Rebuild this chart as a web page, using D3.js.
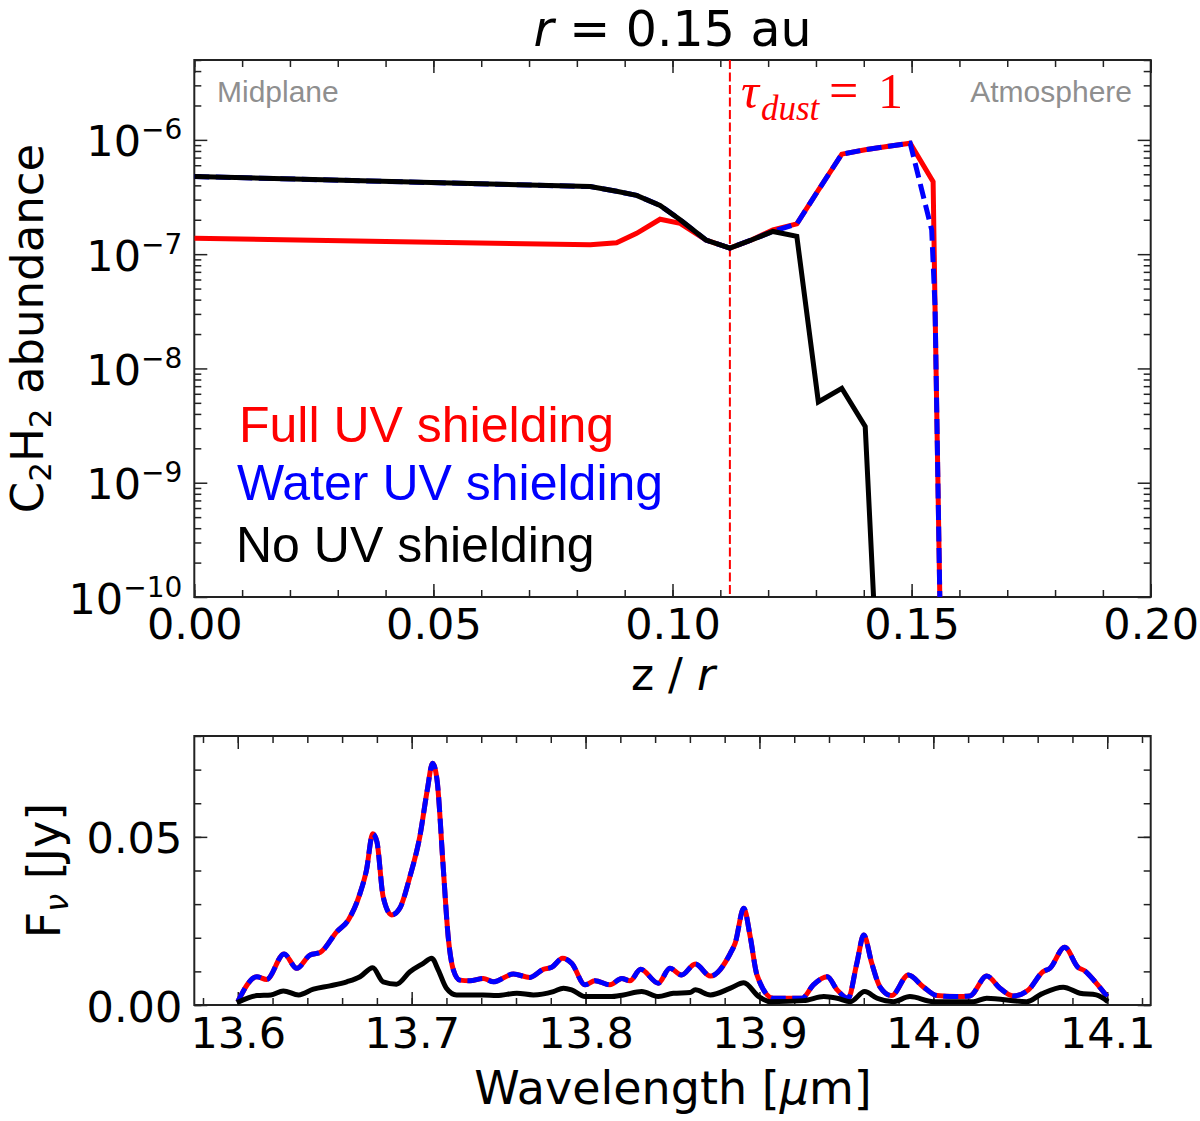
<!DOCTYPE html>
<html lang="en">
<head>
<meta charset="utf-8">
<style>
  body { margin: 0; background: #fff; }
  svg { font-family: "DejaVu Sans", sans-serif; }
  .domain { display: none; }
  .tick line { stroke: #222; stroke-width: 1.5; }
</style>
</head>
<body>
<svg id="chart" width="1200" height="1121"></svg>
<script src="https://cdn.jsdelivr.net/npm/d3@7/dist/d3.min.js"></script>
<script>
// ---- top panel: C2H2 abundance against z/r (r = 0.15 au)
var zNone  = [0, 0.0828, 0.0883, 0.0925, 0.0974, 0.1016, 0.107, 0.112, 0.1165, 0.121, 0.126, 0.1305, 0.1354, 0.1403, 0.1452];
var abNone = [4.78e-7, 3.90e-7, 3.55e-7, 3.27e-7, 2.67e-7, 2.0e-7, 1.33e-7, 1.13e-7, 1.33e-7, 1.58e-7, 1.43e-7, 5.1e-9, 6.7e-9, 3.1e-9, 2e-13];

var zFull  = [0, 0.04, 0.0828, 0.0883, 0.0925, 0.0974, 0.1016, 0.107, 0.112, 0.1165, 0.121, 0.126, 0.1305, 0.1354, 0.1403, 0.1452, 0.1497, 0.1545, 0.1549, 0.1559, 0.1565];
var abFull = [1.38e-7, 1.29e-7, 1.21e-7, 1.26e-7, 1.52e-7, 2.02e-7, 1.86e-7, 1.33e-7, 1.13e-7, 1.33e-7, 1.63e-7, 1.84e-7, 3.63e-7, 7.5e-7, 8.2e-7, 8.8e-7, 9.35e-7, 4.3e-7, 3.5e-8, 1e-10, 3.2e-12];

// water shielding follows the no-shielding run in the midplane
var zWater  = [0, 0.0828, 0.0883, 0.0925, 0.0974, 0.1016, 0.107, 0.112, 0.1165, 0.121, 0.126, 0.1305, 0.1354, 0.1403, 0.1452, 0.1497, 0.1542, 0.1549, 0.1559, 0.1565];
var abWater = [4.78e-7, 3.90e-7, 3.55e-7, 3.27e-7, 2.67e-7, 2.0e-7, 1.33e-7, 1.13e-7, 1.33e-7, 1.58e-7, 1.84e-7, 3.63e-7, 7.5e-7, 8.2e-7, 8.8e-7, 9.35e-7, 1.63e-7, 3.5e-8, 1e-10, 3.2e-12];

var tauDust = 0.112;

// ---- bottom panel: spectrum
var wlFull = [13.600, 13.611, 13.6166, 13.6266, 13.6339, 13.6416, 13.6473, 13.657, 13.6636, 13.6703, 13.674, 13.6776, 13.680, 13.6836, 13.6885, 13.6932, 13.699, 13.7047, 13.709, 13.712, 13.7146, 13.718, 13.721, 13.724, 13.7277, 13.7335, 13.7411, 13.747, 13.7585, 13.768, 13.7757, 13.7805, 13.7868, 13.792, 13.7997, 13.8054, 13.814, 13.8208, 13.8255, 13.8317, 13.8418, 13.8485, 13.8552, 13.8631, 13.8718, 13.8833, 13.886, 13.891, 13.8947, 13.8986, 13.908, 13.9245, 13.931, 13.939, 13.9447, 13.951, 13.956, 13.960, 13.9646, 13.9693, 13.976, 13.9856, 13.9942, 14.002, 14.0134, 14.021, 14.0307, 14.0383, 14.046, 14.0547, 14.063, 14.067, 14.0755, 14.0832, 14.087, 14.0937, 14.100];
var fxFull = [0.001, 0.0084, 0.0076, 0.0152, 0.0109, 0.0149, 0.0156, 0.0218, 0.0253, 0.0332, 0.0401, 0.0509, 0.0486, 0.0322, 0.0268, 0.0288, 0.0382, 0.0501, 0.064, 0.0719, 0.0669, 0.0421, 0.0203, 0.0104, 0.0074, 0.0072, 0.0079, 0.0069, 0.0092, 0.0082, 0.0106, 0.0112, 0.0139, 0.0124, 0.006, 0.0072, 0.006, 0.0079, 0.0072, 0.0106, 0.0065, 0.0109, 0.0089, 0.0122, 0.0086, 0.0154, 0.0183, 0.0288, 0.0203, 0.0089, 0.002, 0.002, 0.006, 0.0084, 0.0045, 0.002, 0.0124, 0.0208, 0.0124, 0.0054, 0.0028, 0.0089, 0.0054, 0.0028, 0.0025, 0.0027, 0.0086, 0.005, 0.0027, 0.0045, 0.0099, 0.0109, 0.0172, 0.0112, 0.0102, 0.0065, 0.0025];
// the water-shielding spectrum lies on top of the full-shielding one
var wlWater = wlFull;
var fxWater = fxFull;

var wlNone = [13.5995, 13.611, 13.619, 13.6262, 13.635, 13.6435, 13.653, 13.6627, 13.6703, 13.6776, 13.6836, 13.6913, 13.699, 13.7067, 13.7115, 13.7153, 13.72, 13.7258, 13.741, 13.749, 13.7605, 13.770, 13.7815, 13.7873, 13.792, 13.7997, 13.814, 13.8218, 13.8323, 13.8418, 13.8505, 13.86, 13.8631, 13.8718, 13.8833, 13.891, 13.8996, 13.9063, 13.9255, 13.937, 13.9447, 13.9523, 13.9605, 13.9677, 13.977, 13.9865, 14.000, 14.023, 14.0307, 14.0537, 14.0623, 14.0747, 14.0843, 14.0937, 14.1004];
var fxNone = [0.0007, 0.0028, 0.003, 0.0042, 0.003, 0.0047, 0.0057, 0.0069, 0.0084, 0.0111, 0.0069, 0.0062, 0.0099, 0.0124, 0.0139, 0.0104, 0.005, 0.003, 0.003, 0.0028, 0.0035, 0.003, 0.004, 0.005, 0.0045, 0.0025, 0.0025, 0.003, 0.004, 0.0025, 0.0035, 0.0037, 0.0045, 0.003, 0.005, 0.0066, 0.0025, 0.001, 0.0013, 0.0025, 0.002, 0.001, 0.004, 0.002, 0.001, 0.0025, 0.001, 0.001, 0.002, 0.001, 0.0033, 0.0053, 0.0035, 0.003, 0.001];

var SANS = "'Liberation Sans', Arial, Helvetica, sans-serif";
var SERIF = "'Liberation Serif', 'Times New Roman', serif";

var svg = d3.select("#chart");

var T = {left: 194.3, right: 1150.7, top: 60, bottom: 597};
var B = {left: 194.3, right: 1150.7, top: 736, bottom: 1005};

var xTop = d3.scaleLinear().domain([0, 0.2]).range([T.left, T.right]);
var yTop = d3.scaleLog().domain([1e-10, 5e-6]).range([T.bottom, T.top]);
var xBot = d3.scaleLinear().domain([13.575, 14.125]).range([B.left, B.right]);
var yBot = d3.scaleLinear().domain([0, 0.08]).range([B.bottom, B.top]);

function zip(a, b) { return a.map(function(v, i) { return [v, b[i]]; }); }

// clip regions
var defs = svg.append("defs");
[["clipTop", T], ["clipBot", B]].forEach(function(c) {
  defs.append("clipPath").attr("id", c[0]).append("rect")
    .attr("x", c[1].left).attr("y", c[1].top)
    .attr("width", c[1].right - c[1].left).attr("height", c[1].bottom - c[1].top);
});

// ticks on all four sides, pointing in
function drawAxes(x, y, b, xMaj, xMin, yMaj, yMin, xFmt, yFmt, xLabY) {
  var g = svg.append("g");
  function put(axis, tr) {
    var a = g.append("g").attr("transform", tr).call(axis);
    a.attr("font-size", null).attr("font-family", null);
    return a;
  }
  put(d3.axisBottom(x).tickValues(xMin).tickSize(-7).tickFormat(""), "translate(0," + b.bottom + ")");
  var xb = put(d3.axisBottom(x).tickValues(xMaj).tickSize(-13).tickFormat(xFmt), "translate(0," + b.bottom + ")");
  xb.selectAll("text").attr("y", xLabY).attr("dy", null).attr("font-size", 43).attr("fill", "#000");
  put(d3.axisTop(x).tickValues(xMin).tickSize(-7).tickFormat(""), "translate(0," + b.top + ")");
  put(d3.axisTop(x).tickValues(xMaj).tickSize(-13).tickFormat(""), "translate(0," + b.top + ")");
  put(d3.axisLeft(y).tickValues(yMin).tickSize(-7).tickFormat(""), "translate(" + b.left + ",0)");
  var yl = put(d3.axisLeft(y).tickValues(yMaj).tickSize(-13).tickPadding(12).tickFormat(""), "translate(" + b.left + ",0)");
  yl.selectAll("text").attr("dy", 16).attr("font-size", 43).attr("fill", "#000").each(yFmt);
  put(d3.axisRight(y).tickValues(yMin).tickSize(-7).tickFormat(""), "translate(" + b.right + ",0)");
  put(d3.axisRight(y).tickValues(yMaj).tickSize(-13).tickFormat(""), "translate(" + b.right + ",0)");
  g.append("rect").attr("x", b.left).attr("y", b.top)
    .attr("width", b.right - b.left).attr("height", b.bottom - b.top)
    .attr("fill", "none").attr("stroke", "#222").attr("stroke-width", 2);
}

// ----- top panel
var decades = [1e-10, 1e-9, 1e-8, 1e-7, 1e-6];
var logMinor = [];
decades.forEach(function(d) { for (var k = 2; k <= 9; k++) if (k * d <= 5e-6) logMinor.push(k * d); });

drawAxes(xTop, yTop, T,
  [0, 0.05, 0.1, 0.15, 0.2], d3.range(0, 0.2001, 0.01),
  decades, logMinor,
  d3.format(".2f"),
  function(d) {
    var t = d3.select(this);
    t.append("tspan").text("10");
    t.append("tspan").attr("dy", -17).attr("font-size", 28).text("\u2212" + Math.round(-Math.log10(d)));
  },
  42);

var lineTop = d3.line().x(function(d) { return xTop(d[0]); }).y(function(d) { return yTop(d[1]); });
var pTop = svg.append("g").attr("clip-path", "url(#clipTop)");

pTop.append("line").attr("x1", xTop(tauDust)).attr("x2", xTop(tauDust))
  .attr("y1", T.top).attr("y2", T.bottom)
  .attr("stroke", "red").attr("stroke-width", 2).attr("stroke-dasharray", "9,3.5");

pTop.append("path").datum(zip(zFull, abFull)).attr("d", lineTop)
  .attr("fill", "none").attr("stroke", "red").attr("stroke-width", 5);
pTop.append("path").datum(zip(zWater, abWater)).attr("d", lineTop)
  .attr("fill", "none").attr("stroke", "blue").attr("stroke-width", 5).attr("stroke-dasharray", "15,6.5");
pTop.append("path").datum(zip(zNone, abNone)).attr("d", lineTop)
  .attr("fill", "none").attr("stroke", "black").attr("stroke-width", 5);

// title
var title = svg.append("text").attr("x", (T.left + T.right) / 2).attr("y", 46)
  .attr("text-anchor", "middle").attr("font-size", 49);
title.append("tspan").attr("font-style", "italic").text("r");
title.append("tspan").text(" = 0.15 au");

// region labels
svg.append("text").attr("x", 217).attr("y", 102).attr("font-size", 30)
  .style("font-family", SANS).attr("fill", "#8f8f8f").text("Midplane");
svg.append("text").attr("x", 1132).attr("y", 102).attr("font-size", 30).attr("text-anchor", "end")
  .style("font-family", SANS).attr("fill", "#8f8f8f").text("Atmosphere");

var tau = svg.append("text").attr("y", 108).attr("fill", "red").style("font-family", SERIF);
tau.append("tspan").attr("x", 741).attr("font-size", 50).attr("font-style", "italic").text("\u03c4");
tau.append("tspan").attr("x", 761).attr("dy", 12).attr("font-size", 35).attr("font-style", "italic").text("dust");
tau.append("tspan").attr("x", 829).attr("dy", -12).attr("font-size", 52).text("=");
tau.append("tspan").attr("x", 878).attr("font-size", 50).text("1");

// legend
var legend = [["Full UV shielding", "red", 239, 442], ["Water UV shielding", "blue", 237, 500], ["No UV shielding", "black", 236, 562]];
svg.selectAll(".leg").data(legend).enter().append("text")
  .attr("x", function(d) { return d[2]; }).attr("y", function(d) { return d[3]; })
  .attr("font-size", 50).style("font-family", SANS)
  .attr("fill", function(d) { return d[1]; }).text(function(d) { return d[0]; });

// axis labels, top
var xl = svg.append("text").attr("x", 673).attr("y", 690).attr("text-anchor", "middle").attr("font-size", 44);
xl.append("tspan").text("z / ");
xl.append("tspan").attr("font-style", "italic").text("r");

var yl = svg.append("text").attr("transform", "translate(43," + ((T.top + T.bottom) / 2) + ") rotate(-90)")
  .attr("text-anchor", "middle").attr("font-size", 45);
yl.append("tspan").text("C");
yl.append("tspan").attr("font-size", 31).attr("dy", 8).text("2");
yl.append("tspan").attr("dy", -8).text("H");
yl.append("tspan").attr("font-size", 31).attr("dy", 8).text("2");
yl.append("tspan").attr("dy", -8).text(" abundance");

// ----- bottom panel
drawAxes(xBot, yBot, B,
  [13.6, 13.7, 13.8, 13.9, 14.0, 14.1], d3.range(13.58, 14.121, 0.02),
  [0, 0.05], d3.range(0, 0.0801, 0.01),
  d3.format(".1f"),
  function(d) { d3.select(this).text(d3.format(".2f")(d)); },
  43);

var lineBot = d3.line().curve(d3.curveMonotoneX)
  .x(function(d) { return xBot(d[0]); }).y(function(d) { return yBot(d[1]); });
var pBot = svg.append("g").attr("clip-path", "url(#clipBot)");
pBot.append("path").datum(zip(wlFull, fxFull)).attr("d", lineBot)
  .attr("fill", "none").attr("stroke", "red").attr("stroke-width", 5).attr("stroke-linejoin", "round");
pBot.append("path").datum(zip(wlWater, fxWater)).attr("d", lineBot)
  .attr("fill", "none").attr("stroke", "blue").attr("stroke-width", 5).attr("stroke-dasharray", "15,6.5");
pBot.append("path").datum(zip(wlNone, fxNone)).attr("d", lineBot)
  .attr("fill", "none").attr("stroke", "black").attr("stroke-width", 5).attr("stroke-linejoin", "round");

var wl = svg.append("text").attr("x", 673).attr("y", 1104).attr("text-anchor", "middle").attr("font-size", 46);
wl.append("tspan").text("Wavelength [");
wl.append("tspan").attr("font-style", "italic").text("\u03bc");
wl.append("tspan").text("m]");

var fl = svg.append("text").attr("transform", "translate(60," + ((B.top + B.bottom) / 2) + ") rotate(-90)")
  .attr("text-anchor", "middle").attr("font-size", 46);
fl.append("tspan").text("F");
fl.append("tspan").attr("font-size", 32).attr("dy", 8).attr("font-style", "italic").text("\u03bd");
fl.append("tspan").attr("dy", -8).text(" [Jy]");
</script>
</body>
</html>
